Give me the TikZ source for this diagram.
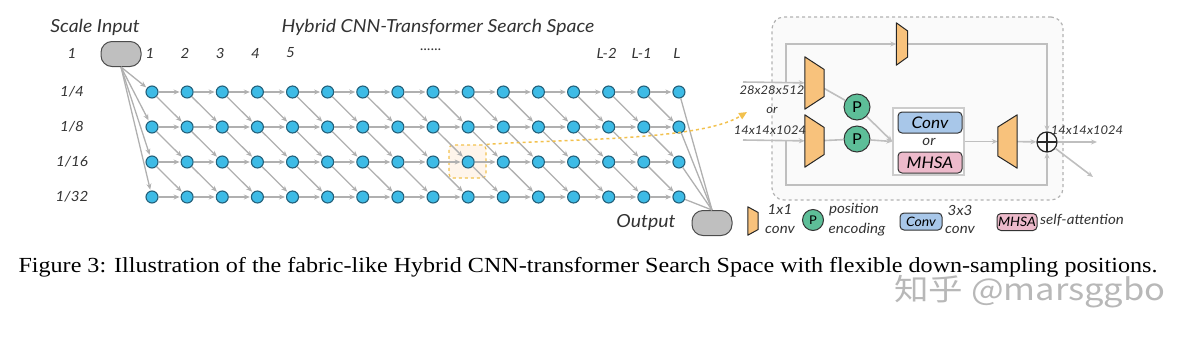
\documentclass[tikz,border=0pt]{standalone}
\usepackage{fontspec}
\setmainfont{Liberation Serif}
\setsansfont[FakeStretch=1.08]{Lato}
\newfontfamily\capfont[FakeStretch=1.12]{Liberation Serif}
\newfontfamily\cjkfont[FakeStretch=1.15]{Noto Sans CJK SC}
\usetikzlibrary{arrows.meta,positioning,calc}
\definecolor{nodeblue}{HTML}{3DBBE6}
\definecolor{nodeedge}{HTML}{23607A}
\definecolor{edgegray}{HTML}{B0B0B0}
\definecolor{convorange}{HTML}{F8C27C}
\definecolor{posgreen}{HTML}{5DBE98}
\definecolor{convblue}{HTML}{A8C7E9}
\definecolor{mhsapink}{HTML}{EDBACB}
\definecolor{hlorange}{HTML}{F2C14E}
\tikzset{
  lbl/.style={font=\sffamily\itshape\fontsize{14}{16}\selectfont,text=black!80},
  biglbl/.style={font=\sffamily\itshape\fontsize{18}{20}\selectfont,text=black!80},
  smalllbl/.style={font=\sffamily\itshape\fontsize{12}{13}\selectfont,text=black!80,inner sep=0pt},
  cell/.style={circle,draw=nodeedge,fill=nodeblue,line width=1.1pt,minimum size=12pt,inner sep=0pt},
  link/.style={draw=edgegray,line width=1.3pt,-{Stealth[length=6pt,width=5pt]},shorten >=1pt},
  flow/.style={draw=black!25,line width=1.6pt,-{Stealth[length=6pt,width=5pt]}},
  pill/.style={draw=black!70,fill=black!25,line width=1pt,rounded corners=11pt,minimum width=40pt,minimum height=25pt},
  convslot/.style={rectangle,inner sep=0pt},
  trapline/.style={draw=black!85,fill=convorange,line width=1pt,line join=round},
  posenc/.style={circle,draw=black!80,fill=posgreen,line width=1pt,inner sep=0pt,font=\sffamily\fontsize{15}{16}\selectfont},
  opbox/.style={rounded corners=4pt,draw=black!80,line width=1pt,inner sep=0pt,font=\sffamily\itshape\fontsize{16}{17}\selectfont}
}
% 1x1 conv shapes drawn on a named slot: #1 slot, #2 half of the short edge
\newcommand\downtrap[2]{\draw[trapline] (#1.north west) -- ($(#1.east)+(0,-#2)$) -- ($(#1.east)+(0,#2)$) -- (#1.south west) -- cycle;}
\newcommand\uptrap[2]{\draw[trapline] (#1.north east) -- ($(#1.west)+(0,-#2)$) -- ($(#1.west)+(0,#2)$) -- (#1.south east) -- cycle;}
\begin{document}
\begin{tikzpicture}[x=1pt,y=-1pt]
\useasboundingbox (0,0) rectangle (1203,346);
% headings
\node[biglbl] (scalehd) at (95,27) {Scale Input};
\node[biglbl] (spacehd) at (438,27) {Hybrid CNN-Transformer Search Space};
\node[lbl] (r0) at (72,53) {1};
\foreach \r/\t in {1/{1/4},2/{1/8},3/{1/16},4/{1/32}}
  \node[lbl] (r\r) at (72,{92+35*(\r-1)}) {\t};
\foreach \c/\t in {1/1,2/2,3/3,4/4,5/5,14/L-2,15/L-1,16/L}
  \node[lbl] (col\c) at ({150+35.13*(\c-1)},53) {\t};
\node[lbl] (col9) at (431,50) {......};
% fabric
\node[pill] (inp) at (121,54) {};
\node[pill] (outp) at (712,223) {};
\node[biglbl] (outlbl) at (646,223) {Output};
\node[dashed,draw=hlorange,fill=orange!8,line width=1.2pt,rounded corners=4pt,minimum width=37pt,minimum height=33pt] (hlbox) at (467.5,161.5) {};
\foreach \r in {1,...,4}
  \foreach \c in {1,...,16}
    \node[cell] (n-\r-\c) at ({152+35.13*(\c-1)},{92+35*(\r-1)}) {};
\foreach \r in {1,...,4}
  \foreach \c in {1,...,15} {
    \pgfmathtruncatemacro\nc{\c+1}
    \draw[link] (n-\r-\c) -- (n-\r-\nc);
  }
\foreach \r in {1,...,3}
  \foreach \c in {1,...,15} {
    \pgfmathtruncatemacro\nc{\c+1}
    \pgfmathtruncatemacro\nr{\r+1}
    \draw[link] (n-\r-\c) -- (n-\nr-\nc);
  }
\foreach \r in {1,...,4} {
  \draw[link] (inp.south) -- (n-\r-1);
  \draw[draw=edgegray,line width=1.3pt] (n-\r-16) -- (outp.north);
}
% cell detail
\node[dashed,draw=black!30,fill=black!2,line width=1.2pt,rounded corners=12pt,minimum width=291pt,minimum height=183pt] (blk) at (917.5,108.5) {};
\draw[hlorange,dashed,line width=1.5pt,-{Triangle[length=8pt,width=7pt]}] (hlbox.north east) .. controls (560,139) and (700,141) .. (747,112);
\coordinate (inu) at (743,82);
\coordinate (inl) at (743,140);
\coordinate (bu) at (786,82);
\coordinate (bl) at (786,140);
\node[convslot,minimum width=19pt,minimum height=52pt] (du) at (814.5,83) {};
\node[convslot,minimum width=19pt,minimum height=52pt] (dl) at (814.5,141) {};
\node[convslot,minimum width=11pt,minimum height=42pt] (dt) at (902,44) {};
\node[posenc,minimum size=26pt] (pu) at (857,107) {P};
\node[posenc,minimum size=26pt] (pl) at (857,139) {P};
\node[draw=black!20,fill=white,line width=1.5pt,minimum width=71pt,minimum height=67pt] (ops) at (928.5,141.5) {};
\node[opbox,fill=convblue,minimum width=64pt,minimum height=21pt] (conv) at (930,122.5) {Conv};
\node[lbl] (opor) at (929,142) {or};
\node[opbox,fill=mhsapink,minimum width=64pt,minimum height=21pt] (mhsa) at (930,162.5) {MHSA};
\node[convslot,minimum width=19pt,minimum height=53pt] (up) at (1007.5,141.5) {};
\node[circle,draw=black!85,line width=1.2pt,minimum size=20pt,inner sep=0pt,
  path picture={\draw[black!85,line width=1.2pt] (path picture bounding box.north) -- (path picture bounding box.south) (path picture bounding box.west) -- (path picture bounding box.east);}] (sum) at (1047,142) {};
\coordinate (lc) at (1047,185);
\coordinate (outr) at (1097,142);
\coordinate (outd) at (1093,177);
\draw[flow] (inu) -- (du);
\draw[flow] (inl) -- (dl);
\draw[flow] (bu) |- (dt);
\draw[flow] (dt) -| (sum);
\draw[flow] (bl) |- (lc) -- (sum);
\draw[flow,-] (du) -- (pu);
\draw[flow,-] (dl) -- (pl);
\draw[flow] (pu) -- (ops.west);
\draw[flow] (pl) -- (ops.west);
\draw[flow] (ops) -- (up);
\draw[flow] (up) -- (sum);
\draw[flow] (sum) -- (outr);
\draw[flow] (sum) -- (outd);
\downtrap{du}{13.5}
\downtrap{dl}{13.5}
\downtrap{dt}{13}
\uptrap{up}{14.5}
\node[smalllbl] (szin1) at (772,90) {28x28x512};
\node[smalllbl] (szor) at (772,110) {or};
\node[smalllbl] (szin2) at (770,130) {14x14x1024};
\node[smalllbl] (szout) at (1087,130) {14x14x1024};
% legend
\node[convslot,minimum width=10pt,minimum height=28pt] (legconv) at (753,221) {};
\downtrap{legconv}{8.5}
\node[lbl] (legconvt) at (780,209) {1x1};
\node[lbl] (legconvb) at (780,230) {conv};
\node[posenc,minimum size=21pt,font=\sffamily\fontsize{12}{13}\selectfont] (legpos) at (813,220) {P};
\node[lbl] (legpost) at (854,210) {position};
\node[lbl] (legposb) at (857,230) {encoding};
\node[opbox,fill=convblue,minimum width=42pt,minimum height=17pt,font=\sffamily\itshape\fontsize{13}{14}\selectfont] (legcv) at (921,221.5) {Conv};
\node[lbl] (legcvt) at (960,210) {3x3};
\node[lbl] (legcvb) at (960,230) {conv};
\node[opbox,fill=mhsapink,minimum width=40pt,minimum height=17pt,font=\sffamily\itshape\fontsize{13}{14}\selectfont] (legmh) at (1017,222) {MHSA};
\node[lbl] (legmht) at (1082,220) {self-attention};
% caption and mark
\node[font=\capfont\fontsize{21.5}{24}\selectfont] (cap) at (588,267) {Figure 3: Illustration of the fabric-like Hybrid CNN-transformer Search Space with flexible down-sampling positions.};
\node[font=\cjkfont\fontsize{30}{32}\selectfont,text=black!28] (mark) at (1030,292) {知乎 @marsggbo};
\end{tikzpicture}
\end{document}
